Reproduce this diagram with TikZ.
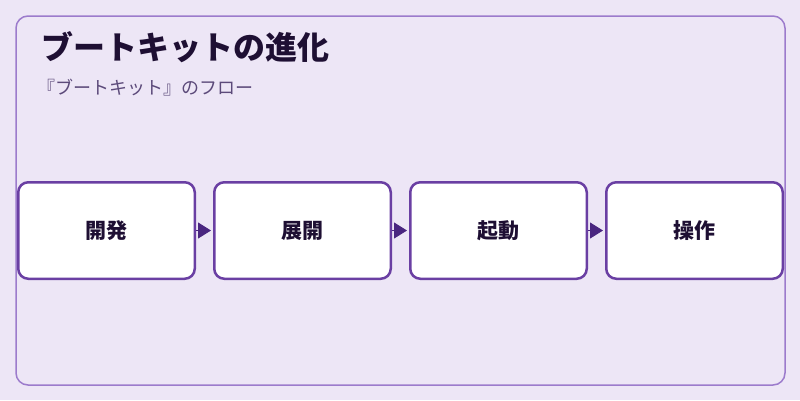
\documentclass[tikz,border=0pt]{standalone}
\usepackage{fontspec}
\setmainfont{Noto Sans CJK JP}
\usetikzlibrary{arrows.meta}
\definecolor{bgpurple}{HTML}{EDE6F6}
\definecolor{framepurple}{HTML}{9C7BCC}
\definecolor{boxpurple}{HTML}{6A3FA3}
\definecolor{tippurple}{HTML}{4A2680}
\definecolor{titleink}{HTML}{1E0F33}
\definecolor{subink}{HTML}{5C4A7A}
\begin{document}
\begin{tikzpicture}[x=1pt,y=-1pt,
    main node/.style={rectangle,rounded corners=10pt,draw=boxpurple,line width=2.5pt,fill=white,
        minimum width=176.5pt,minimum height=96.5pt,text=titleink,font=\fontsize{21}{25}\selectfont\bfseries},
    flow arrow/.style={draw=tippurple,fill=tippurple,line width=1pt,-{Triangle[length=13pt,width=16pt]},shorten >=2pt}]
        \useasboundingbox[fill=bgpurple] (0,0) rectangle (800,400);
        \draw[framepurple,line width=1.5pt,rounded corners=12pt] (16,16) rectangle (785,385);

        \node[anchor=base west,inner sep=0pt,text=titleink,font=\fontsize{32}{36}\selectfont\bfseries] at (41, 59) (title) {ブートキットの進化};
        \node[anchor=base west,inner sep=0pt,text=subink,font=\fontsize{18}{22}\selectfont] at (37, 94) (subtitle) {『ブートキット』のフロー};

        \node[main node] at (106.5, 230.5) (dev) {開発};
        \node[main node] at (302.5, 230.5) (deploy) {展開};
        \node[main node] at (498.5, 230.5) (boot) {起動};
        \node[main node] at (694.5, 230.5) (op) {操作};

        \path
            (dev) edge[flow arrow] (deploy)
            (deploy) edge[flow arrow] (boot)
            (boot) edge[flow arrow] (op)
            ;
    \end{tikzpicture}
\end{document}
